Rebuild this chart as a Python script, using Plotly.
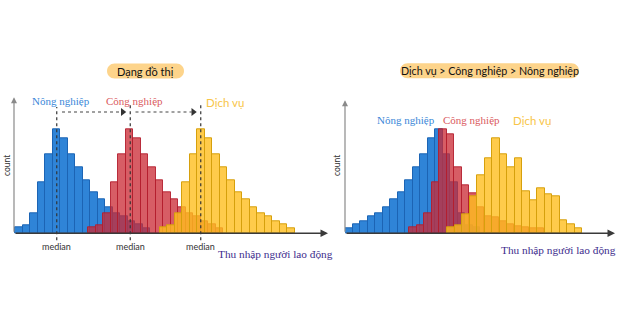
import plotly.graph_objects as go

W, H = 620, 330

# ---------------- data ----------------
# left panel: identical shapes, shifted (income in bin units)
nong_left = [6, 8, 20, 51, 79, 104, 95, 79, 66, 53, 41, 34, 26, 20, 17, 12, 9, 5]
cong_left = [6, 8, 20, 51, 79, 104, 95, 79, 66, 53, 41, 34, 26, 20, 17, 12, 9, 5]
dich_left = [6, 8, 20, 51, 79, 104, 95, 79, 66, 53, 41, 34, 26, 20, 17, 12, 9, 5]
start_left = {"nong": 0.15, "cong": 9.9, "dich": 19.4}
median_left = {"nong": 5.7, "cong": 15.5, "dich": 24.9}

# right panel
nong_right = [5, 9, 12, 17, 20, 26, 34, 41, 53, 66, 79, 95, 104, 79, 51, 20, 8, 6]
cong_right = [6, 8, 20, 51, 104, 99, 66, 48, 40, 26, 17, 16, 12, 9, 7, 6, 5, 5]
dich_right = [6, 8, 19, 37, 58, 75, 95, 79, 66, 75, 42, 33, 45, 39, 37, 13, 9, 5]
start_right = {"nong": 0.0, "cong": 8.55, "dich": 13.6}

names = {"nong": "Nông nghiệp", "cong": "Công nghiệp", "dich": "Dịch vụ"}
title_left = "Dạng đồ thị"
title_right = "Dịch vụ > Công nghiệp > Nông nghiệp"
xlabel = "Thu nhập người lao động"
ylabel = "count"
median_text = "median"

# ---------------- styles ----------------
fill = {"nong": "rgb(47,132,215)", "cong": "rgba(202,42,52,0.76)", "dich": "rgba(255,190,30,0.80)"}
edge = {"nong": "rgb(28,100,180)", "cong": "rgba(180,30,45,0.9)", "dich": "rgb(214,160,12)"}
txtcol = {"nong": "#3A87D8", "cong": "#DA5A60", "dich": "#F8C548"}

fig = go.Figure()

def add_hist(vals, start, key, xa, ya):
    xs = [start + i + 0.5 for i in range(len(vals))]
    fig.add_trace(go.Bar(x=xs, y=vals, width=1, xaxis=xa, yaxis=ya,
                         marker=dict(color=fill[key], line=dict(color=edge[key], width=1)),
                         showlegend=False, hoverinfo="skip"))

add_hist(nong_left, start_left["nong"], "nong", "x", "y")
add_hist(cong_left, start_left["cong"], "cong", "x", "y")
add_hist(dich_left, start_left["dich"], "dich", "x", "y")
add_hist(nong_right, start_right["nong"], "nong", "x2", "y2")
add_hist(cong_right, start_right["cong"], "cong", "x2", "y2")
add_hist(dich_right, start_right["dich"], "dich", "x2", "y2")

# pixel geometry
base_py = 233.3
top_py = 97.3
ylo = -15
yhi = base_py - top_py
ydom = [(H - (base_py - ylo)) / H, (H - top_py) / H]
px_unit = 7.5
lx0, lx1 = 14, 328
rx0, rx1 = 345, 615

axis_common = dict(showgrid=False, zeroline=False, showticklabels=False, showline=False, ticks="")
fig.update_layout(
    width=W, height=H, margin=dict(l=0, r=0, t=0, b=0),
    paper_bgcolor="white", plot_bgcolor="rgba(0,0,0,0)",
    barmode="overlay", bargap=0, showlegend=False,
    xaxis=dict(domain=[lx0 / W, lx1 / W], range=[0, (lx1 - lx0) / px_unit], **axis_common),
    yaxis=dict(domain=ydom, range=[ylo, yhi], **axis_common),
    xaxis2=dict(domain=[rx0 / W, rx1 / W], range=[0, (rx1 - rx0) / px_unit], anchor="y2", **axis_common),
    yaxis2=dict(domain=ydom, range=[ylo, yhi], anchor="x2", **axis_common),
)

C = dict(xanchor="center", yanchor="middle")

# dashed median lines (left)
tops = {"nong": 126.3, "cong": 128.3, "dich": 130.3}
for k in ["nong", "cong", "dich"]:
    m = median_left[k]
    fig.add_shape(type="line", xref="x", yref="y", x0=m, x1=m, y0=-7, y1=tops[k],
                  line=dict(color="#333", width=1.2, dash="3px,3px"))
    fig.add_annotation(xref="x", yref="y", x=m, y=-13, text=median_text, showarrow=False,
                       font=dict(family="Lato", size=9, color="#333"), **C)

# dashed horizontal arrows
arr_y = 121.3
for a, b in [("nong", "cong"), ("cong", "dich")]:
    x0 = median_left[a] + 0.7
    x1 = median_left[b] - 0.8
    fig.add_shape(type="line", xref="x", yref="y", x0=x0, x1=x1 - 0.4, y0=arr_y, y1=arr_y,
                  line=dict(color="#444", width=1.1, dash="3px,3px"))
    fig.add_trace(go.Scatter(x=[x1 - 0.2], y=[arr_y], mode="markers", xaxis="x", yaxis="y",
                             marker=dict(symbol="triangle-right", size=7, color="#333"),
                             showlegend=False, hoverinfo="skip"))

# series labels
lab_left = {"nong": (6.27, 132.3), "cong": (16.0, 132.3), "dich": (28.1, 131.3)}
lab_right = {"nong": (8.1, 113.3), "cong": (16.93, 113.3), "dich": (24.93, 113.3)}
for k in ["nong", "cong", "dich"]:
    fam = "Lato" if k == "dich" else "Liberation Serif"
    sz = 11.5 if k == "dich" else 11
    fig.add_annotation(xref="x", yref="y", x=lab_left[k][0], y=lab_left[k][1], text=names[k],
                       showarrow=False, font=dict(family=fam, size=sz, color=txtcol[k]), **C)
    fig.add_annotation(xref="x2", yref="y2", x=lab_right[k][0], y=lab_right[k][1], text=names[k],
                       showarrow=False, font=dict(family=fam, size=sz, color=txtcol[k]), **C)

# axes with arrows
def axis_arrows(xa, ya, xmax, ytop, xlen_px, ylen_px):
    fig.add_annotation(xref=xa, yref=ya, x=xmax, y=0, ax=-xlen_px, ay=0, text="",
                       showarrow=True, arrowhead=2, arrowsize=1, arrowwidth=1.5,
                       arrowcolor="#3a3a3a", standoff=0)
    fig.add_annotation(xref=xa, yref=ya, x=0, y=ytop, ax=0, ay=ylen_px, text="",
                       showarrow=True, arrowhead=2, arrowsize=1, arrowwidth=1.2,
                       arrowcolor="#8a8a8a", standoff=0)

axis_arrows("x", "y", (lx1 - lx0) / px_unit, yhi, lx1 - lx0, yhi)
axis_arrows("x2", "y2", (rx1 - rx0) / px_unit, yhi - 3, rx1 - rx0, yhi - 3)

# y labels
for xp in [7, 337]:
    fig.add_annotation(xref="paper", yref="paper", x=xp / W, y=(H - 166) / H, text=ylabel,
                       textangle=-90, showarrow=False, font=dict(family="Lato", size=8.5, color="#333"), **C)

# x labels
for xp, yp in [(275, 254), (558, 250)]:
    fig.add_annotation(xref="paper", yref="paper", x=xp / W, y=(H - yp) / H, text=xlabel,
                       showarrow=False, font=dict(family="Liberation Serif", size=11.3, color="#3D2C8D"), **C)

# title pills
def pill(x0, x1, y0, y1):
    X0, X1 = x0 / W, x1 / W
    Y0, Y1 = (H - y1) / H, (H - y0) / H
    r = (y1 - y0) / 2
    rx = r / W
    ry = r / H
    ym = (Y0 + Y1) / 2
    return (f"M {X0+rx},{Y0} L {X1-rx},{Y0} C {X1-rx*0.45},{Y0} {X1},{ym-ry*0.55} {X1},{ym} "
            f"C {X1},{ym+ry*0.55} {X1-rx*0.45},{Y1} {X1-rx},{Y1} L {X0+rx},{Y1} "
            f"C {X0+rx*0.45},{Y1} {X0},{ym+ry*0.55} {X0},{ym} "
            f"C {X0},{ym-ry*0.55} {X0+rx*0.45},{Y0} {X0+rx},{Y0} Z")

for (x0, x1, y0, y1), t, fs in [((107, 184, 63.5, 78.5), title_left, 11),
                                ((400, 579, 63.3, 78.3), title_right, 10.7)]:
    fig.add_shape(type="path", xref="paper", yref="paper", path=pill(x0, x1, y0, y1),
                  fillcolor="#FDD48B", line=dict(width=0), layer="below")
    fig.add_annotation(xref="paper", yref="paper", x=(x0 + x1) / 2 / W, y=(H - (y0 + y1) / 2) / H,
                       text=t, showarrow=False, font=dict(family="Lato", size=fs, color="#111"), **C)

fig.write_html("out.html")
